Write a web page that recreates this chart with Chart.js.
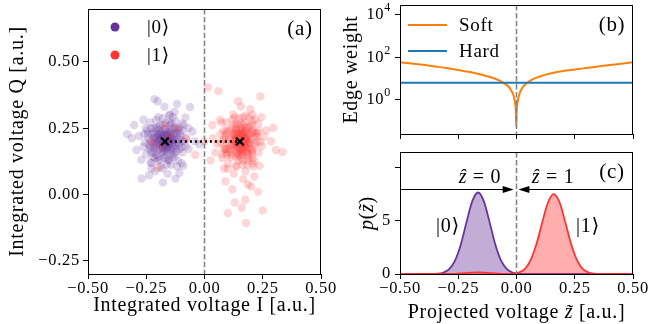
<!DOCTYPE html>
<html>
<head>
<meta charset="utf-8">
<script src="https://cdn.jsdelivr.net/npm/chart.js@4.4.1/dist/chart.umd.min.js"></script>
<style>
  body { margin: 0; background: #fff; }
  #page { position: relative; width: 649px; height: 324px; overflow: hidden; }
  canvas { position: absolute; }
</style>
</head>
<body>
<div id="page">
  <canvas id="iqChart" width="340" height="324" style="left:0;top:0"></canvas>
  <canvas id="weightChart" width="309" height="140" style="left:340px;top:0"></canvas>
  <canvas id="pdfChart" width="309" height="184" style="left:340px;top:140px"></canvas>
</div>
<script>
const state0Shots = [
  [-0.170,0.200],[-0.152,0.213],[-0.183,0.228],[-0.138,0.183],[-0.198,0.192],[-0.161,0.171],[-0.192,0.218],[-0.131,0.207],[-0.211,0.222],
  [-0.158,0.238],[-0.178,0.162],[-0.143,0.231],[-0.203,0.168],[-0.149,0.193],[-0.188,0.203],[-0.172,0.219],[-0.167,0.178],[-0.163,0.207],
  [-0.181,0.188],[-0.141,0.202],[-0.201,0.213],[-0.154,0.229],[-0.193,0.172],[-0.128,0.188],[-0.208,0.181],[-0.169,0.243],[-0.157,0.187],
  [-0.184,0.209],[-0.147,0.169],[-0.189,0.232],[-0.139,0.212],[-0.204,0.199],[-0.162,0.222],[-0.177,0.181],[-0.173,0.168],[-0.166,0.232],
  [-0.133,0.221],[-0.213,0.198],[-0.151,0.201],[-0.186,0.191],[-0.159,0.178],[-0.181,0.221],[-0.142,0.172],[-0.197,0.229],[-0.148,0.219],
  [-0.176,0.208],[-0.158,0.196],[-0.181,0.176],[-0.164,0.226],[-0.196,0.205],[-0.145,0.207],[-0.171,0.188],[-0.187,0.232],[-0.153,0.181],
  [-0.136,0.196],[-0.206,0.187],[-0.167,0.214],[-0.179,0.195],[-0.161,0.162],[-0.194,0.244],[-0.149,0.238],[-0.213,0.214],[-0.132,0.229],
  [-0.174,0.152],[-0.127,0.172],[-0.216,0.173],[-0.185,0.157],[-0.142,0.158],[-0.199,0.226],[-0.171,0.247],
  [-0.118,0.222],[-0.221,0.232],[-0.109,0.191],[-0.232,0.179],[-0.148,0.262],[-0.199,0.141],[-0.128,0.252],[-0.219,0.158],[-0.112,0.243],
  [-0.228,0.228],[-0.161,0.139],[-0.191,0.261],[-0.121,0.161],[-0.209,0.249],[-0.098,0.203],[-0.241,0.212],[-0.168,0.271],[-0.158,0.128],
  [-0.141,0.142],[-0.212,0.138],[-0.108,0.171],[-0.229,0.161],[-0.122,0.249],[-0.218,0.251],[-0.131,0.152],[-0.192,0.131],[-0.102,0.219],
  [-0.238,0.188],[-0.152,0.271],[-0.139,0.248],[-0.202,0.253],[-0.119,0.182],[-0.222,0.192],[-0.111,0.208],[-0.231,0.201],[-0.171,0.138],
  [-0.129,0.141],[-0.182,0.262],[-0.121,0.232],[-0.208,0.149],[-0.098,0.178],[-0.243,0.229],[-0.142,0.268],[-0.198,0.128],[-0.108,0.252],
  [-0.229,0.248],[-0.151,0.129],[-0.222,0.142],[-0.121,0.198],[-0.218,0.212],
  [-0.105,0.232],[-0.236,0.171],[-0.178,0.288],[-0.163,0.112],[-0.095,0.158],[-0.247,0.241],[-0.125,0.278],[-0.226,0.118],[-0.087,0.198],
  [-0.256,0.196],[-0.144,0.112],[-0.208,0.281],[-0.113,0.127],[-0.233,0.272],[-0.092,0.241],[-0.251,0.152],[-0.136,0.292],[-0.189,0.106],
  [-0.198,0.292],[-0.118,0.106],[-0.259,0.228],[-0.082,0.182],[-0.152,0.298],[-0.228,0.098],[-0.096,0.268],
  [-0.078,0.213],[-0.262,0.179],[-0.148,0.302],[-0.181,0.098],[-0.089,0.262],[-0.252,0.251],[-0.098,0.118],[-0.232,0.121],[-0.068,0.172],
  [-0.281,0.221],[-0.128,0.312],[-0.211,0.088],[-0.052,0.238],[-0.292,0.168],[-0.172,0.331],[-0.158,0.078],[-0.082,0.291],[-0.262,0.282],
  [-0.091,0.108],[-0.271,0.131],[-0.041,0.201],[-0.312,0.212],[-0.118,0.342],[-0.201,0.352],[-0.068,0.251],[-0.302,0.262],[-0.108,0.081],
  [-0.238,0.072],[-0.021,0.189],[-0.332,0.228],[-0.178,0.045],[-0.125,0.060],[-0.215,0.360],[-0.062,0.330],[-0.270,0.060]
];
const state1Shots = [
  [0.155,0.200],[0.166,0.221],[0.184,0.192],[0.136,0.229],[0.146,0.171],[0.126,0.211],[0.174,0.181],[0.163,0.239],[0.177,0.161],
  [0.196,0.208],[0.114,0.189],[0.186,0.231],[0.123,0.169],[0.144,0.222],[0.157,0.178],[0.176,0.202],[0.133,0.198],[0.167,0.212],
  [0.143,0.188],[0.153,0.231],[0.164,0.168],[0.187,0.219],[0.124,0.182],[0.147,0.242],[0.136,0.158],[0.194,0.197],[0.146,0.212],
  [0.163,0.189],[0.127,0.222],[0.183,0.178],[0.166,0.229],[0.154,0.169],[0.177,0.211],[0.134,0.191],[0.124,0.202],[0.186,0.203],
  [0.173,0.241],[0.157,0.158],[0.156,0.222],[0.144,0.181],[0.137,0.211],[0.174,0.188],[0.126,0.231],[0.184,0.172],[0.176,0.219],
  [0.149,0.206],[0.168,0.195],[0.141,0.178],[0.161,0.226],[0.131,0.204],[0.181,0.209],[0.156,0.187],[0.139,0.233],[0.173,0.179],
  [0.191,0.193],[0.119,0.188],[0.159,0.214],[0.146,0.196],[0.166,0.162],[0.133,0.244],[0.178,0.238],[0.112,0.214],[0.196,0.229],
  [0.152,0.152],[0.199,0.172],[0.111,0.173],[0.142,0.157],[0.184,0.158],[0.127,0.226],[0.158,0.247],
  [0.176,0.252],[0.186,0.148],[0.144,0.262],[0.134,0.142],[0.216,0.218],[0.094,0.172],[0.206,0.238],[0.116,0.151],[0.194,0.259],
  [0.186,0.138],[0.093,0.212],[0.214,0.182],[0.116,0.249],[0.204,0.161],[0.156,0.272],[0.164,0.128],[0.226,0.201],[0.084,0.208],
  [0.096,0.231],[0.094,0.158],[0.126,0.262],[0.114,0.141],[0.206,0.248],[0.204,0.152],[0.104,0.242],[0.086,0.182],[0.174,0.272],
  [0.146,0.128],[0.224,0.218],[0.206,0.231],[0.204,0.169],[0.134,0.251],[0.146,0.148],[0.166,0.262],[0.154,0.138],[0.096,0.198],
  [0.094,0.241],[0.216,0.192],[0.184,0.252],[0.106,0.161],[0.136,0.268],[0.186,0.129],[0.226,0.232],[0.084,0.171],[0.204,0.262],
  [0.206,0.138],[0.086,0.222],[0.096,0.149],[0.156,0.248],[0.164,0.152],
  [0.221,0.232],[0.091,0.171],[0.149,0.288],[0.164,0.112],[0.232,0.158],[0.081,0.241],[0.202,0.278],[0.101,0.118],[0.241,0.198],
  [0.069,0.196],[0.183,0.112],[0.119,0.281],[0.214,0.127],[0.094,0.272],[0.235,0.241],[0.076,0.152],[0.191,0.292],[0.138,0.106],
  [0.129,0.292],[0.209,0.106],[0.068,0.228],[0.245,0.182],[0.175,0.298],[0.099,0.098],[0.231,0.268],
  [0.166,0.292],[0.134,0.108],[0.256,0.218],[0.054,0.191],[0.216,0.282],[0.206,0.118],[0.074,0.272],[0.076,0.138],[0.124,0.302],
  [0.176,0.088],[0.266,0.242],[0.046,0.158],[0.196,0.322],[0.126,0.078],[0.286,0.201],[0.036,0.212],[0.244,0.292],[0.236,0.108],
  [0.066,0.282],[0.084,0.098],[0.156,0.332],[0.166,0.058],[0.296,0.252],[0.306,0.168],[0.206,0.302],[0.214,0.068],[0.034,0.262],
  [0.026,0.128],[0.144,0.352],[0.186,0.038],
  [0.120,0.020],[0.175,-0.020],[0.160,-0.050],[0.178,-0.108],[0.090,0.050],[0.230,0.010],[0.130,-0.030],[0.200,0.030],[0.015,0.405],
  [0.335,0.160],[0.240,0.370],[0.060,0.390],[0.250,-0.060],[0.100,-0.070],
  [-0.150,0.220],[-0.190,0.180],[-0.120,0.250],[-0.200,0.100],[-0.080,0.210],[-0.170,0.260],[-0.230,0.200],[-0.040,0.150],[0.000,0.200]
];
const centreI = [-0.170, 0.152];
const centreQ = [0.200, 0.200];

// ---- (b) edge weights ----
const softZ = [-0.5,-0.45,-0.4,-0.35,-0.3,-0.25,-0.2,-0.15,-0.1,-0.075,-0.05,-0.035,-0.025,-0.015,-0.01,-0.006,-0.003,-0.0015,
  0,0.003,0.006,0.01,0.015,0.025,0.035,0.05,0.075,0.1,0.15,0.2,0.25,0.3,0.35,0.4,0.45,0.5];
const softWeight = [59,52,45,38,32,26,20.5,15.5,10.8,8.4,5.9,4.3,3.1,1.9,1.25,0.7,0.3,0.06,
  0.25,0.6,1.0,1.55,2.3,3.7,5.0,7.0,10.0,12.8,18,23,27,32,38,44,51,59];
const hardZ = [-0.5, 0.5];
const hardWeight = [6.4, 6.4];

// ---- (c) projected distributions ----
const pdfZ = [-0.5,-0.45,-0.4,-0.365,-0.34,-0.315,-0.29,-0.265,-0.24,-0.215,-0.19,-0.165,-0.14,-0.115,-0.09,-0.065,-0.04,-0.015,
  0,0.01,0.035,0.06,0.085,0.11,0.135,0.16,0.185,0.21,0.235,0.26,0.285,0.31,0.335,0.36,0.4,0.45,0.5];
const pdf0 = [0,0,0,0.005,0.027,0.12,0.43,1.2,2.7,4.82,6.82,7.65,6.82,4.82,2.7,1.2,0.43,0.12,
  0.05,0.027,0.005,0,0,0,0,0,0,0,0,0,0,0,0,0,0,0,0];
const pdf1 = [0,0,0,0,0.002,0.004,0.008,0.02,0.05,0.09,0.13,0.15,0.13,0.09,0.05,0.02,0.012,0.033,
  0.08,0.14,0.46,1.27,2.76,4.81,6.71,7.5,6.71,4.81,2.76,1.27,0.46,0.14,0.032,0.006,0,0,0];

// ---- ticks ----
const zTicks = [-0.5, -0.25, 0, 0.25, 0.5];
const zTickLabels = ['\u22120.50', '\u22120.25', '0.00', '0.25', '0.50'];
const qTicks = [-0.25, 0, 0.25, 0.5];
const qTickLabels = ['\u22120.25', '0.00', '0.25', '0.50'];
const weightTicks = [1, 100, 10000];
const weightExponents = ['0', '2', '4'];
const pdfTicks = [0, 5, 10];
const pdfTickLabels = ['0', '5', ''];

const PURPLE = '#663399';
const RED = '#ff3333';
const SERIF = "'Liberation Serif', 'DejaVu Serif', serif";
const tickFont = { family: SERIF, size: 16.5 };

const toXY = (xs, ys) => xs.map((x, i) => ({ x: x, y: ys[i] }));

// fixed axis box sizes, no automatic label padding -> plot areas line up with the figure
function fixSize(w, h) {
  return scale => {
    if (w != null) scale.width = w;
    if (h != null) scale.height = h;
    scale.paddingLeft = scale.paddingRight = scale.paddingTop = scale.paddingBottom = 0;
  };
}
function useTicks(values) {
  return scale => { scale.ticks = values.map(v => ({ value: v })); };
}
const tickGrid = { display: true, drawOnChartArea: false, drawTicks: true, tickLength: 5, color: '#000', lineWidth: 1 };

// text made of upright / italic runs, centred on (x, y), optionally rotated
function drawRuns(ctx, runs, x, y, size, rotate) {
  ctx.save();
  ctx.translate(x, y);
  if (rotate) ctx.rotate(-Math.PI / 2);
  ctx.textBaseline = 'middle';
  ctx.textAlign = 'left';
  let total = 0;
  runs.forEach(([t, it]) => {
    ctx.font = (it ? 'italic ' : '') + size + 'px ' + SERIF;
    total += ctx.measureText(t).width;
  });
  let cx = -total / 2;
  runs.forEach(([t, it]) => {
    ctx.font = (it ? 'italic ' : '') + size + 'px ' + SERIF;
    ctx.fillText(t, cx, 0);
    cx += ctx.measureText(t).width;
  });
  ctx.restore();
}

// dashed line at z = 0, frame, panel letter and axis titles
function panelPlugin(letter, titles) {
  return {
    id: 'panel' + letter,
    beforeDraw(chart) {
      chart.ctx.letterSpacing = '0.7px';
    },
    afterDatasetsDraw(chart) {
      const { ctx, chartArea: a, scales } = chart;
      const px = scales.x.getPixelForValue(0);
      ctx.save();
      ctx.strokeStyle = '#808080';
      ctx.lineWidth = 1.5;
      ctx.setLineDash([5.5, 2.4]);
      ctx.beginPath();
      ctx.moveTo(px, a.top);
      ctx.lineTo(px, a.bottom);
      ctx.stroke();
      ctx.restore();
    },
    afterDraw(chart) {
      const { ctx, chartArea: a } = chart;
      ctx.save();
      ctx.strokeStyle = '#000';
      ctx.lineWidth = 1;
      ctx.strokeRect(Math.round(a.left) + 0.5, Math.round(a.top) + 0.5, Math.round(a.right - a.left) - 1, Math.round(a.bottom - a.top));
      ctx.fillStyle = '#000';
      drawRuns(ctx, [['(' + letter + ')', false]], a.right - 21, a.top + 20, 21, false);
      titles.forEach(t => {
        const tx = t.rotate ? t.x : (a.left + a.right) / 2;
        const ty = t.rotate ? (a.top + a.bottom) / 2 : t.y;
        drawRuns(ctx, t.runs, tx, ty, 20, t.rotate);
      });
      ctx.restore();
    }
  };
}

const baseOptions = {
  responsive: false,
  animation: false,
  events: [],
  devicePixelRatio: 1,
  plugins: { legend: { display: false }, tooltip: { enabled: false } }
};

// ================= (a) =================
const iqLegend = {
  id: 'iqLegend',
  afterDraw(chart) {
    const ctx = chart.ctx;
    ctx.save();
    ctx.font = '19px ' + SERIF;
    ctx.textBaseline = 'middle';
    [2, 1].forEach((di, row) => {
      const ds = chart.data.datasets[di];
      const y = 27 + row * 28;
      ctx.fillStyle = ds.legendColor;
      ctx.beginPath();
      ctx.arc(115, y, 4.5, 0, Math.PI * 2);
      ctx.fill();
      ctx.fillStyle = '#000';
      ctx.fillText(ds.label, 147, y + 1);
    });
    ctx.restore();
  }
};

new Chart(document.getElementById('iqChart'), {
  type: 'scatter',
  data: {
    datasets: [
      {
        label: 'centres',
        data: toXY(centreI, centreQ),
        showLine: true,
        borderColor: '#000',
        borderWidth: 2.4,
        borderDash: [2, 3],
        pointStyle: 'crossRot',
        pointRadius: 5.5,
        pointBorderWidth: 2.2,
        pointBorderColor: '#000',
        order: 0
      },
      {
        label: '|1\u27E9',
        data: state1Shots.map(p => ({ x: p[0], y: p[1] })),
        backgroundColor: 'rgba(255,51,51,0.2)',
        legendColor: RED,
        borderWidth: 0,
        pointRadius: 4.2,
        order: 1
      },
      {
        label: '|0\u27E9',
        data: state0Shots.map(p => ({ x: p[0], y: p[1] })),
        backgroundColor: 'rgba(102,51,153,0.2)',
        legendColor: PURPLE,
        borderWidth: 0,
        pointRadius: 4.2,
        order: 2
      }
    ]
  },
  options: Object.assign({}, baseOptions, {
    layout: { padding: { top: 9, right: 19, left: 0, bottom: 0 } },
    scales: {
      x: {
        type: 'linear', min: -0.5, max: 0.5,
        afterFit: fixSize(null, 50),
        afterBuildTicks: useTicks(zTicks),
        grid: tickGrid, border: { display: false },
        ticks: { font: tickFont, color: '#000', padding: 0, maxRotation: 0, callback: (v, i) => zTickLabels[i] }
      },
      y: {
        type: 'linear', min: -0.3, max: 0.7,
        afterFit: fixSize(88, null),
        afterBuildTicks: useTicks(qTicks),
        grid: tickGrid, border: { display: false },
        ticks: { font: tickFont, color: '#000', padding: 3, callback: (v, i) => qTickLabels[i] }
      }
    }
  }),
  plugins: [panelPlugin('a', [
    { runs: [['Integrated voltage I [a.u.]', false]], y: 306 },
    { runs: [['Integrated voltage Q [a.u.]', false]], x: 17.5, rotate: true }
  ]), iqLegend]
});

// ================= (b) =================
const weightExtras = {
  id: 'weightExtras',
  afterDraw(chart) {
    const ctx = chart.ctx;
    const y = chart.scales.y;
    ctx.save();
    ctx.fillStyle = '#000';
    ctx.textBaseline = 'middle';
    ctx.textAlign = 'right';
    // log tick labels 10^n
    weightTicks.forEach((v, i) => {
      const py = y.getPixelForValue(v);
      ctx.font = '12px ' + SERIF;
      ctx.fillText(weightExponents[i], 51, py - 7);
      const ew = ctx.measureText(weightExponents[i]).width;
      ctx.font = '16.5px ' + SERIF;
      ctx.fillText('10', 51 - ew, py);
    });
    // legend
    ctx.textAlign = 'left';
    ctx.font = '19px ' + SERIF;
    [0, 1].forEach((di, row) => {
      const ds = chart.data.datasets[di];
      const ly = 25 + row * 26;
      ctx.strokeStyle = ds.borderColor;
      ctx.lineWidth = 2;
      ctx.beginPath();
      ctx.moveTo(68, ly);
      ctx.lineTo(107, ly);
      ctx.stroke();
      ctx.fillText(ds.label, 119, ly + 1);
    });
    ctx.restore();
  }
};

new Chart(document.getElementById('weightChart'), {
  type: 'line',
  data: {
    datasets: [
      {
        label: 'Soft',
        data: toXY(softZ, softWeight),
        borderColor: '#ff7f0e',
        borderWidth: 2,
        pointRadius: 0,
        cubicInterpolationMode: 'monotone',
        order: 1
      },
      {
        label: 'Hard',
        data: toXY(hardZ, hardWeight),
        borderColor: '#1f77b4',
        borderWidth: 2,
        pointRadius: 0,
        order: 0
      }
    ]
  },
  options: Object.assign({}, baseOptions, {
    layout: { padding: { top: 5, right: 16, left: 0, bottom: 0 } },
    scales: {
      x: {
        type: 'linear', min: -0.5, max: 0.5,
        afterFit: fixSize(null, 6),
        afterBuildTicks: useTicks(zTicks),
        grid: tickGrid, border: { display: false },
        ticks: { display: false }
      },
      y: {
        type: 'logarithmic', min: 0.025, max: 29500,
        afterFit: fixSize(60, null),
        afterBuildTicks: useTicks(weightTicks),
        grid: tickGrid, border: { display: false },
        ticks: { display: false }
      }
    }
  }),
  plugins: [panelPlugin('b', [
    { runs: [['Edge weight', false]], x: 12, rotate: true }
  ]), weightExtras]
});

// ================= (c) =================
const decisionArrowY = 8;
const arrowTips = [-0.012, 0.008];
const regionLabels = [
  { z: -0.157, p: 9.0, runs: [['\u1E91', true], [' = 0', false]] },
  { z: 0.157, p: 9.0, runs: [['\u1E91', true], [' = 1', false]] },
  { z: -0.294, p: 4.4, runs: [['|0\u27E9', false]] },
  { z: 0.307, p: 4.4, runs: [['|1\u27E9', false]] }
];

const pdfExtras = {
  id: 'pdfExtras',
  afterDraw(chart) {
    const { ctx, chartArea: a, scales: { x, y } } = chart;
    const ay = Math.round(y.getPixelForValue(decisionArrowY)) + 0.5;
    ctx.save();
    ctx.strokeStyle = '#000';
    ctx.fillStyle = '#000';
    ctx.lineWidth = 1;
    const arrows = [[a.left, x.getPixelForValue(arrowTips[0])], [a.right, x.getPixelForValue(arrowTips[1])]];
    arrows.forEach(([from, tip]) => {
      const dir = Math.sign(tip - from);
      ctx.beginPath();
      ctx.moveTo(from, ay);
      ctx.lineTo(tip - dir * 8, ay);
      ctx.stroke();
      ctx.beginPath();
      ctx.moveTo(tip, ay);
      ctx.lineTo(tip - dir * 11, ay - 3.5);
      ctx.lineTo(tip - dir * 11, ay + 3.5);
      ctx.closePath();
      ctx.fill();
    });
    regionLabels.forEach(lbl => {
      drawRuns(ctx, lbl.runs, x.getPixelForValue(lbl.z), y.getPixelForValue(lbl.p), 20, false);
    });
    ctx.restore();
  }
};

new Chart(document.getElementById('pdfChart'), {
  type: 'line',
  data: {
    datasets: [
      {
        label: '|0\u27E9',
        data: toXY(pdfZ, pdf0),
        borderColor: PURPLE,
        backgroundColor: 'rgba(102,51,153,0.4)',
        fill: 'origin',
        borderWidth: 1.8,
        pointRadius: 0,
        cubicInterpolationMode: 'monotone',
        order: 1
      },
      {
        label: '|1\u27E9',
        data: toXY(pdfZ, pdf1),
        borderColor: RED,
        backgroundColor: 'rgba(255,51,51,0.4)',
        fill: 'origin',
        borderWidth: 1.8,
        pointRadius: 0,
        cubicInterpolationMode: 'monotone',
        order: 0
      }
    ]
  },
  options: Object.assign({}, baseOptions, {
    layout: { padding: { top: 12, right: 16, left: 0, bottom: 0 } },
    scales: {
      x: {
        type: 'linear', min: -0.5, max: 0.5,
        afterFit: fixSize(null, 50),
        afterBuildTicks: useTicks(zTicks),
        grid: tickGrid, border: { display: false },
        ticks: { font: tickFont, color: '#000', padding: 0, maxRotation: 0, callback: (v, i) => zTickLabels[i] }
      },
      y: {
        type: 'linear', min: 0, max: 11.45,
        afterFit: fixSize(60, null),
        afterBuildTicks: useTicks(pdfTicks),
        grid: tickGrid, border: { display: false },
        ticks: { font: tickFont, color: '#000', padding: 4, callback: (v, i) => pdfTickLabels[i] }
      }
    }
  }),
  plugins: [panelPlugin('c', [
    { runs: [['Projected voltage ', false], ['z\u0303', true], [' [a.u.]', false]], y: 173 },
    { runs: [['p', true], ['(', false], ['z\u0303', true], [')', false]], x: 27.5, rotate: true }
  ]), pdfExtras]
});
</script>
</body>
</html>
